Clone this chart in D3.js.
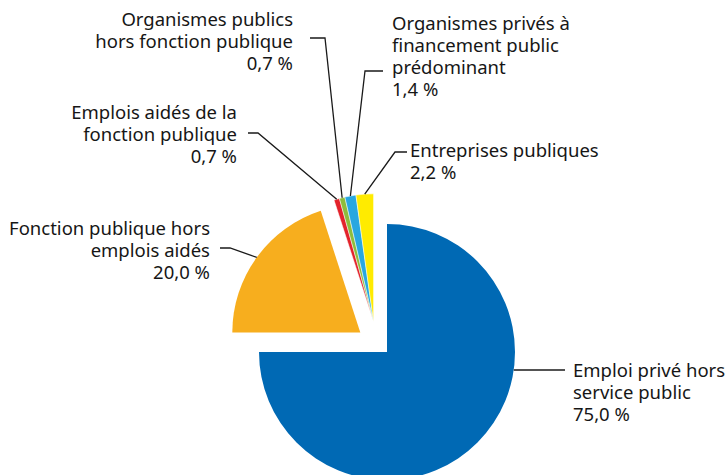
<!DOCTYPE html>
<html>
<head>
<meta charset="utf-8">
<script src="https://cdn.jsdelivr.net/npm/d3@7"></script>
<style>
  body { margin: 0; background: #fff; }
  text { font-family: "Noto Sans", sans-serif; font-size: 18.5px; fill: #161616; }
  .leader { fill: none; stroke: #1a1a1a; stroke-width: 1.3; }
</style>
</head>
<body>
<svg width="725" height="475"></svg>
<script>
// slices, clockwise from 12 o'clock
var categories = ["Emploi privé hors service public",
                  "Fonction publique hors emplois aidés",
                  "Emplois aidés de la fonction publique",
                  "Organismes publics hors fonction publique",
                  "Organismes privés à financement public prédominant",
                  "Entreprises publiques"];
var values = [75.0, 20.0, 0.7, 0.7, 1.4, 2.2];
var valueLabels = ["75,0 %", "20,0 %", "0,7 %", "0,7 %", "1,4 %", "2,2 %"];
var labelLines = [
  ["Emploi privé hors", "service public"],
  ["Fonction publique hors", "emplois aidés"],
  ["Emplois aidés de la", "fonction publique"],
  ["Organismes publics", "hors fonction publique"],
  ["Organismes privés à", "financement public", "prédominant"],
  ["Entreprises publiques"]
];
var colors = ["#0069b4", "#f7ae1e", "#e3232b", "#8dbd3c", "#28a7e0", "#ffeb00"];

// explode: distance and direction (deg) ; null direction = slice mid angle
var explodeDist = [0, 33, 33, 33, 33, 33];
var explodeDir = [null, null, 336, 336, 336, 336];

// label layout: anchor x, first baseline, text-anchor, leader points (elbow)
var labelLayout = [
  {x: 573, y: 377, anchor: "start", pts: [[565, 370]], hor: true},
  {x: 210, y: 235, anchor: "end", pts: [[220, 248], [230, 248]]},
  {x: 237, y: 119, anchor: "end", pts: [[248, 133], [258, 133]]},
  {x: 293, y: 26, anchor: "end", pts: [[310, 38], [325, 38]]},
  {x: 392, y: 30, anchor: "start", pts: [[383, 71], [365, 71]]},
  {x: 410, y: 157, anchor: "start", pts: [[407, 152], [395, 152]]}
];

var cx = 387, cy = 352, r = 128, lineH = 22;

var svg = d3.select("svg");
var pie = d3.pie().sort(null).value(function(d) { return d; });
var arcs = pie(values);
var arc = d3.arc().innerRadius(0).outerRadius(r);

function offset(d, i) {
  var a = explodeDir[i] == null ? (d.startAngle + d.endAngle) / 2 : explodeDir[i] * Math.PI / 180;
  return [Math.sin(a) * explodeDist[i], -Math.cos(a) * explodeDist[i]];
}

var g = svg.append("g").attr("transform", "translate(" + cx + "," + cy + ")");

g.selectAll("path.slice")
  .data(arcs)
  .enter().append("path")
    .attr("class", "slice")
    .attr("transform", function(d, i) { var o = offset(d, i); return "translate(" + o[0] + "," + o[1] + ")"; })
    .attr("d", arc)
    .attr("fill", function(d, i) { return colors[i]; })
    .attr("stroke", function(d, i) { return i >= 2 ? "#fff" : "none"; })
    .attr("stroke-width", 0.5);

// leader lines
arcs.forEach(function(d, i) {
  var L = labelLayout[i];
  var o = offset(d, i);
  var end;
  if (L.hor) {
    var yy = L.pts[0][1] - cy - o[1];
    end = [cx + o[0] + Math.sqrt(r * r - yy * yy), L.pts[0][1]];
  } else {
    var a = (d.startAngle + d.endAngle) / 2;
    end = [cx + o[0] + Math.sin(a) * r, cy + o[1] - Math.cos(a) * r];
  }
  var pts = L.pts.concat([end]);
  svg.append("path").attr("class", "leader").attr("d", d3.line()(pts));

  var t = svg.append("text").attr("text-anchor", L.anchor);
  labelLines[i].concat([valueLabels[i]]).forEach(function(s, k) {
    t.append("tspan").attr("x", L.x).attr("y", L.y + k * lineH).text(s);
  });
});
</script>
</body>
</html>
